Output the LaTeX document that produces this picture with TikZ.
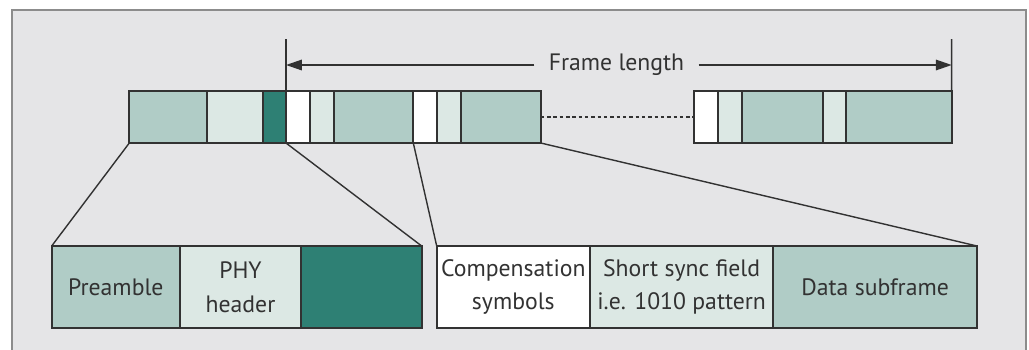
\documentclass[tikz,border=0pt]{standalone}
\usepackage{fontspec}
\setmainfont{PT Sans}
\usetikzlibrary{arrows.meta}
\definecolor{paneGray}{RGB}{229,229,231}
\definecolor{edgeGray}{RGB}{140,140,140}
\definecolor{inkGray}{RGB}{50,50,50}
\definecolor{tealMid}{RGB}{176,204,198}
\definecolor{tealLight}{RGB}{220,232,228}
\definecolor{tealDark}{RGB}{46,128,116}
\tikzstyle{cellBase}=[shape = rectangle, draw = inkGray, line width = 1.1pt, inner sep = 0pt, outer sep = 0pt, anchor = north west]
\tikzstyle{topCell}=[cellBase, minimum height = 1.04cm]
\tikzstyle{lowCell}=[cellBase, minimum height = 1.646cm, align = center, text = inkGray, font = \fontsize{13.5}{19}\selectfont]

\begin{document}
\begin{tikzpicture}[x = 0.02cm, y = -0.02cm]
\tikzstyle{zoomLine}=[draw = inkGray, line width = 0.8pt]
\tikzstyle{tickLine}=[draw = inkGray, line width = 0.9pt]
\tikzstyle{dimArrow}=[draw = inkGray, line width = 0.8pt, -{Triangle[length = 9pt, width = 6pt]}]
\tikzstyle{dotLine}=[draw = inkGray, line width = 0.8pt, dash pattern = on 2pt off 1.6pt]
\useasboundingbox (0,0) rectangle (1029,349);
\clip (0,0) rectangle (1029,349);
\fill[white] (0,0) rectangle (1029,349);
\draw[edgeGray, line width = 1pt, fill = paneGray] (12,10) rectangle (1026,380);
% top row, first frame
\node[topCell, fill = tealMid, minimum width = 1.548cm] (s1) at (129.3,91) {};
\node[topCell, fill = tealLight, minimum width = 1.12cm] (s2) at (206.7,91) {};
\node[topCell, fill = tealDark, minimum width = 0.466cm] (s3) at (262.7,91) {};
\node[topCell, fill = white, minimum width = 0.48cm] (s4) at (286,91) {};
\node[topCell, fill = tealLight, minimum width = 0.48cm] (s5) at (310,91) {};
\node[topCell, fill = tealMid, minimum width = 1.586cm] (s6) at (334,91) {};
\node[topCell, fill = white, minimum width = 0.468cm] (s7) at (413.3,91) {};
\node[topCell, fill = tealLight, minimum width = 0.48cm] (s8) at (436.7,91) {};
\node[topCell, fill = tealMid, minimum width = 1.6cm] (s9) at (460.7,91) {};
% top row, last part
\node[topCell, fill = white, minimum width = 0.474cm] (s10) at (694,91) {};
\node[topCell, fill = tealLight, minimum width = 0.48cm] (s11) at (717.7,91) {};
\node[topCell, fill = tealMid, minimum width = 1.62cm] (s12) at (741.7,91) {};
\node[topCell, fill = tealLight, minimum width = 0.466cm] (s13) at (822.7,91) {};
\node[topCell, fill = tealMid, minimum width = 2.114cm] (s14) at (846,91) {};
\draw[dotLine] (s9.east) -- (s10.west);
% frame length
\node[text = inkGray, font = \fontsize{13.5}{16}\selectfont, inner xsep = 0.28cm] (flen) at (616.5,65) {Frame length};
\coordinate (lEnd) at (286,65);
\coordinate (rEnd) at (951.7,65);
\coordinate (lTop) at (286,39);
\coordinate (rTop) at (951.7,39);
\draw[tickLine] (lTop) -- (s4.north west);
\draw[tickLine] (rTop) -- (s14.north east);
\draw[dimArrow] (flen) -- (lEnd);
\draw[dimArrow] (flen) -- (rEnd);
% bottom row
\node[lowCell, fill = tealMid, minimum width = 2.566cm] (p1) at (51.7,246) {Preamble};
\node[lowCell, fill = tealLight, minimum width = 2.42cm] (p2) at (180,246) {PHY\\header};
\node[lowCell, fill = tealDark, minimum width = 2.414cm] (p3) at (301,246) {};
\node[lowCell, fill = white, minimum width = 3.066cm] (c1) at (436.7,246) {Compensation\\symbols};
\node[lowCell, fill = tealLight, minimum width = 3.666cm] (c2) at (590,246) {Short sync field\\i.e. 1010 pattern};
\node[lowCell, fill = tealMid, minimum width = 4.074cm] (c3) at (773.3,246) {Data subframe};
\draw[zoomLine] (s1.south west) -- (p1.north west);
\draw[zoomLine] (s3.south east) -- (p3.north east);
\draw[zoomLine] (s7.south west) -- (c1.north west);
\draw[zoomLine] (s9.south east) -- (c3.north east);
\end{tikzpicture}
\end{document}
